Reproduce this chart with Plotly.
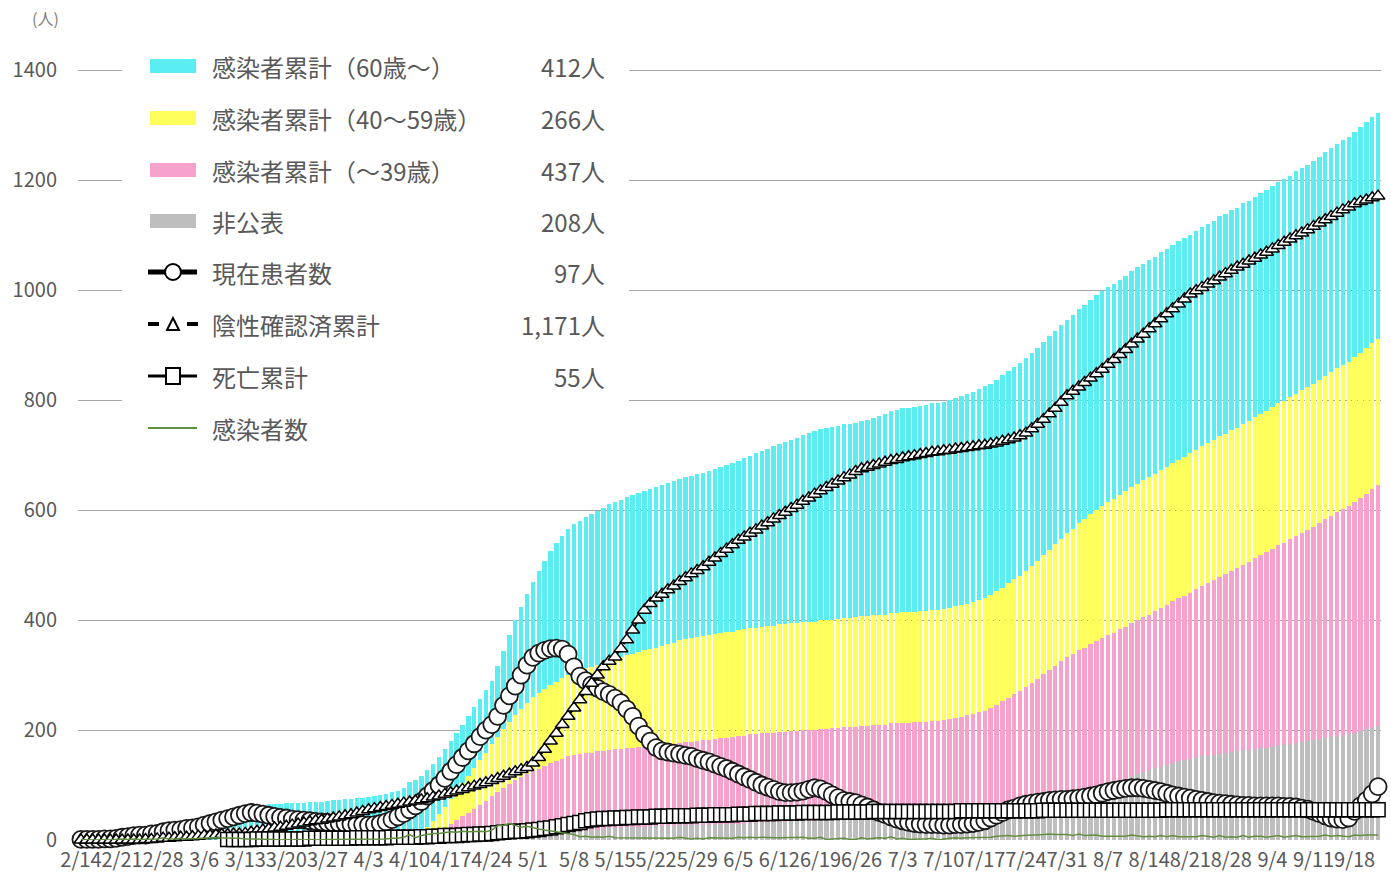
import pandas as pd
import plotly.graph_objects as go

# ---------------- data ----------------
start_date = "2020-02-14"
n_days = 222
tick_labels = ["2/14", "2/21", "2/28", "3/6", "3/13", "3/20", "3/27", "4/3", "4/10", "4/17",
               "4/24", "5/1", "5/8", "5/15", "5/22", "5/29", "6/5", "6/12", "6/19", "6/26",
               "7/3", "7/10", "7/17", "7/24", "7/31", "8/7", "8/14", "8/21", "8/28", "9/4",
               "9/11", "9/18"]

# cumulative cases by age group (own layer values of the stacked bars)
cum_60plus = [
    1, 1, 1, 1, 2, 2, 3,
    5, 6, 8, 9, 10, 12, 14,
    18, 20, 22, 25, 27, 29, 32,
    35, 39, 43, 47, 51, 55, 58,
    60, 62, 63, 64, 65, 66, 66,
    67, 67, 68, 68, 69, 69, 70,
    71, 72, 73, 74, 75, 76, 77,
    78, 80, 82, 84, 86, 89, 93,
    102, 103, 103, 104, 104, 104, 105,
    105, 106, 107, 108, 110, 112, 113,
    115, 128, 142, 158, 172, 185, 198,
    210, 222, 233, 243, 252, 259, 265,
    270, 273, 276, 278, 280, 282, 284,
    285, 286, 287, 288, 289, 290, 291,
    292, 292, 293, 293, 294, 294, 295,
    295, 296, 298, 300, 302, 304, 306,
    308, 311, 314, 317, 320, 323, 326,
    328, 331, 334, 337, 340, 343, 346,
    348, 349, 350, 351, 352, 353, 353,
    354, 356, 358, 361, 364, 367, 369,
    371, 372, 373, 374, 375, 376, 376,
    377, 378, 379, 380, 381, 382, 384,
    385, 385, 385, 386, 386, 386, 387,
    387, 387, 387, 387, 388, 388, 388,
    388, 388, 389, 389, 389, 390, 390,
    390, 391, 391, 392, 393, 394, 394,
    395, 395, 396, 396, 397, 397, 398,
    398, 398, 399, 399, 399, 400, 400,
    400, 400, 401, 401, 401, 402, 402,
    402, 403, 403, 403, 404, 404, 405,
    405, 406, 407, 407, 408, 409, 409,
    410, 410, 411, 411, 412,
]

cum_40_59 = [0] * 49 + [
    0, 0, 0, 0, 1, 1, 2,
    3, 6, 12, 18, 25, 32, 38,
    45, 52, 60, 67, 74, 81, 88,
    95, 101, 107, 113, 119, 124, 130,
    135, 138, 140, 142, 144, 146, 148,
    150, 152, 154, 156, 158, 160, 163,
    165, 167, 169, 171, 173, 175, 177,
    178, 180, 182, 184, 186, 188, 189,
    190, 190, 191, 191, 191, 192, 192,
    192, 193, 193, 194, 194, 195, 195,
    196, 196, 196, 197, 197, 197, 197,
    198, 198, 198, 199, 199, 199, 199,
    200, 200, 200, 200, 200, 201, 201,
    201, 201, 201, 201, 202, 202, 202,
    202, 202, 203, 203, 203, 204, 204,
    205, 205, 206, 207, 208, 209, 210,
    212, 213, 215, 217, 219, 221, 223,
    225, 228, 231, 234, 236, 239, 241,
    243, 244, 245, 246, 247, 248, 249,
    250, 250, 251, 251, 252, 252, 253,
    253, 253, 254, 254, 254, 255, 255,
    255, 255, 256, 256, 256, 257, 257,
    257, 258, 258, 258, 259, 259, 259,
    260, 260, 261, 261, 262, 262, 262,
    263, 264, 265, 265, 266,
]

cum_under39 = [0] * 56 + [
    0, 0, 2, 5, 10, 15, 22,
    30, 36, 43, 50, 57, 64, 71,
    77, 84, 90, 97, 103, 108, 113,
    117, 121, 125, 129, 132, 135, 138,
    140, 140, 141, 141, 142, 142, 143,
    143, 144, 144, 145, 145, 146, 146,
    147, 148, 148, 149, 150, 151, 151,
    152, 153, 154, 155, 156, 157, 158,
    160, 160, 161, 161, 162, 162, 163,
    163, 164, 164, 164, 165, 165, 165,
    166, 166, 166, 166, 167, 167, 167,
    168, 168, 168, 168, 168, 169, 169,
    169, 169, 169, 169, 169, 170, 170,
    170, 171, 172, 173, 175, 176, 178,
    180, 184, 189, 194, 200, 205, 210,
    216, 222, 228, 234, 240, 246, 252,
    258, 260, 263, 265, 268, 270, 272,
    274, 275, 276, 277, 279, 280, 281,
    282, 285, 288, 291, 294, 297, 299,
    302, 306, 310, 314, 318, 322, 326,
    330, 334, 338, 342, 347, 351, 355,
    360, 364, 368, 372, 376, 380, 384,
    388, 392, 397, 402, 406, 411, 415,
    420, 424, 428, 433, 437,
]

cum_undisclosed = [0] * 70 + [
    3, 3, 4, 5, 6, 6, 7,
    8, 9, 10, 11, 12, 13, 14,
    15, 16, 17, 18, 19, 20, 21,
    22, 22, 23, 23, 24, 24, 24,
    25, 25, 26, 26, 27, 27, 27,
    28, 28, 28, 29, 29, 29, 29,
    30, 30, 31, 31, 32, 32, 32,
    33, 33, 34, 34, 35, 35, 35,
    36, 36, 37, 37, 38, 38, 39,
    40, 40, 41, 42, 42, 43, 43,
    44, 44, 45, 46, 46, 47, 47,
    48, 49, 50, 51, 52, 53, 54,
    55, 56, 57, 58, 59, 60, 61,
    62, 64, 65, 67, 69, 71, 73,
    75, 78, 82, 85, 89, 92, 95,
    98, 102, 107, 111, 116, 120, 124,
    128, 131, 134, 137, 140, 143, 145,
    148, 150, 152, 154, 155, 157, 158,
    160, 161, 163, 164, 166, 167, 168,
    170, 172, 173, 175, 177, 179, 180,
    182, 184, 186, 188, 190, 191, 193,
    195, 198, 201, 205, 208,
]

current_patients = [
    1, 1, 1, 1, 2, 2, 3,
    5, 6, 8, 9, 9, 11, 12,
    15, 17, 18, 19, 21, 22, 24,
    27, 30, 33, 36, 39, 42, 45,
    48, 50, 49, 47, 45, 43, 41,
    40, 38, 37, 36, 35, 34, 33,
    32, 31, 30, 30, 29, 28, 28,
    27, 28, 30, 33, 37, 42, 48,
    55, 62, 70, 80, 90, 100, 112,
    125, 137, 150, 162, 175, 188, 200,
    210, 225, 245, 262, 280, 300, 318,
    332, 340, 345, 348, 349, 347, 338,
    315, 298, 290, 282, 276, 270, 265,
    258, 250, 238, 225, 207, 192, 180,
    168, 162, 160, 158, 156, 154, 152,
    148, 145, 142, 138, 134, 130, 125,
    120, 115, 110, 105, 100, 96, 92,
    88, 86, 86, 87, 89, 92, 95,
    93, 88, 82, 77, 72, 70, 68,
    64, 60, 55, 50, 46, 42, 38,
    35, 32, 30, 29, 28, 28, 28,
    27, 27, 28, 28, 29, 30, 32,
    35, 40, 45, 50, 55, 58, 62,
    65, 67, 69, 70, 72, 73, 74,
    74, 75, 76, 78, 80, 82, 85,
    88, 90, 92, 94, 95, 95, 94,
    92, 90, 88, 85, 82, 80, 78,
    76, 74, 72, 70, 68, 67, 66,
    65, 64, 63, 63, 62, 62, 62,
    62, 62, 61, 61, 60, 58, 56,
    52, 48, 44, 40, 38, 37, 40,
    52, 62, 72, 84, 97,
]

cum_negative_confirmed = [
    0, 0, 0, 0, 0, 0, 0,
    0, 0, 0, 0, 1, 1, 2,
    3, 3, 4, 5, 5, 6, 7,
    8, 8, 9, 10, 10, 11, 11,
    12, 14, 16, 18, 20, 22, 23,
    25, 27, 29, 31, 33, 35, 36,
    38, 40, 42, 44, 46, 49, 52,
    55, 57, 59, 61, 63, 65, 67,
    69, 71, 73, 75, 78, 80, 83,
    86, 89, 92, 95, 98, 101, 104,
    108, 112, 116, 120, 124, 128, 132,
    140, 150, 165, 180, 194, 210, 225,
    240, 255, 270, 285, 300, 315, 325,
    333, 348, 364, 382, 400, 418, 430,
    440, 447, 455, 462, 470, 477, 484,
    490, 497, 505, 513, 521, 529, 537,
    545, 551, 558, 564, 571, 577, 584,
    590, 596, 603, 609, 616, 622, 629,
    635, 641, 647, 653, 659, 664, 670,
    675, 678, 681, 684, 687, 690, 692,
    695, 697, 699, 701, 703, 705, 706,
    708, 709, 711, 712, 714, 715, 717,
    718, 720, 722, 725, 728, 731, 735,
    740, 748, 756, 765, 775, 785, 796,
    808, 816, 824, 832, 840, 848, 856,
    865, 874, 883, 892, 902, 911, 920,
    930, 939, 948, 957, 966, 975, 984,
    993, 999, 1005, 1011, 1017, 1024, 1030,
    1036, 1042, 1047, 1053, 1058, 1064, 1069,
    1075, 1081, 1087, 1093, 1099, 1104, 1110,
    1116, 1122, 1128, 1134, 1140, 1146, 1151,
    1157, 1161, 1164, 1168, 1171,
]

cum_deaths = [None] * 25 + [
    1, 1, 1,
    1, 1, 2, 2, 2, 2, 2,
    2, 2, 2, 2, 3, 3, 3,
    3, 3, 3, 3, 3, 4, 4,
    4, 4, 4, 4, 5, 5, 5,
    5, 5, 6, 6, 7, 7, 8,
    8, 8, 9, 10, 10, 11, 11,
    12, 13, 14, 15, 16, 16, 17,
    18, 19, 21, 22, 24, 26, 28,
    30, 32, 35, 37, 38, 39, 39,
    40, 40, 41, 41, 42, 42, 42,
    43, 43, 43, 44, 44, 44, 44,
    45, 45, 45, 46, 46, 46, 46,
    47, 47, 47, 48, 48, 48, 48,
    49, 49, 49, 49, 50, 50, 50,
    50, 50, 50, 51, 51, 51, 51,
    51, 51, 52, 52, 52, 52, 52,
    52, 52, 52, 52, 52, 52, 52,
    52, 52, 52, 53, 53, 53, 53,
    53, 53, 53, 53, 53, 53, 53,
    53, 53, 53, 54, 54, 54, 54,
    54, 54, 54, 54, 54, 54, 54,
    54, 54, 54, 54, 54, 54, 54,
    54, 54, 54, 55, 55, 55, 55,
    55, 55, 55, 55, 55, 55, 55,
    55, 55, 55, 55, 55, 55, 55,
    55, 55, 55, 55, 55, 55, 55,
    55, 55, 55, 55, 55, 55, 55,
    55, 55, 55, 55, 55,
]

for arr in (cum_60plus, cum_40_59, cum_under39, cum_undisclosed, current_patients,
            cum_negative_confirmed, cum_deaths):
    assert len(arr) == n_days, len(arr)

dates = pd.date_range(start_date, periods=n_days, freq="D")
total_cum = [a + b + c + d for a, b, c, d in zip(cum_60plus, cum_40_59, cum_under39, cum_undisclosed)]
daily_new = [total_cum[0]] + [total_cum[i] - total_cum[i - 1] for i in range(1, n_days)]

# ---------------- style ----------------
W, H = 1391, 879
Y_MAX = 1404
ML, MR, MB = 78, 10, 39
PH = round(770 * Y_MAX / 1400)
MT = H - MB - PH
PW = W - ML - MR
FONT = "Noto Sans CJK JP"
TXT = "#595959"
C_CYAN = "#5AEEF2"
C_YEL = "#FFFF5C"
C_PINK = "#F7A2CD"
C_GRAY = "#BEBEBE"
C_GREEN = "#5F8F40"


def px_x(px):
    return (px - ML) / PW


def px_y(py):
    return (H - MB - py) / PH


fig = go.Figure()
for name, vals, col in [("非公表", cum_undisclosed, C_GRAY),
                        ("感染者累計（〜39歳）", cum_under39, C_PINK),
                        ("感染者累計（40〜59歳）", cum_40_59, C_YEL),
                        ("感染者累計（60歳〜）", cum_60plus, C_CYAN)]:
    fig.add_trace(go.Bar(x=dates, y=vals, name=name, marker=dict(color=col, line=dict(width=0))))

fig.add_trace(go.Scatter(
    x=dates, y=current_patients, name="現在患者数", mode="lines+markers", cliponaxis=False,
    line=dict(color="black", width=3),
    marker=dict(symbol="circle", size=17, color="white", line=dict(color="#1a1a1a", width=1.8))))
fig.add_trace(go.Scatter(
    x=dates, y=cum_negative_confirmed, name="陰性確認済累計", mode="lines+markers", cliponaxis=False,
    line=dict(color="black", width=2, dash="dash"),
    marker=dict(symbol="triangle-up", size=12, color="white", line=dict(color="black", width=1.5))))
fig.add_trace(go.Scatter(
    x=dates, y=cum_deaths, name="死亡累計", mode="lines+markers", cliponaxis=False,
    line=dict(color="black", width=2),
    marker=dict(symbol="square", size=14, color="white", line=dict(color="black", width=1.5))))
fig.add_trace(go.Scatter(
    x=dates, y=daily_new, name="感染者数", mode="lines", cliponaxis=False,
    line=dict(color=C_GREEN, width=1.5)))

# ---------------- custom legend ----------------
shapes = [dict(type="rect", xref="paper", yref="paper", x0=px_x(122), x1=px_x(629),
               y0=px_y(452), y1=px_y(40), fillcolor="white", line=dict(width=0), layer="above")]
annotations = []
rows_py = [66, 118, 170, 221, 272, 324, 376, 428]
labels = ["感染者累計（60歳〜）", "感染者累計（40〜59歳）", "感染者累計（〜39歳）", "非公表",
          "現在患者数", "陰性確認済累計", "死亡累計", "感染者数"]
values = [cum_60plus[-1], cum_40_59[-1], cum_under39[-1], cum_undisclosed[-1],
          current_patients[-1], cum_negative_confirmed[-1], cum_deaths[-1], None]
box_cols = [C_CYAN, C_YEL, C_PINK, C_GRAY]
for i, py in enumerate(rows_py):
    yv = px_y(py)
    if i < 4:
        shapes.append(dict(type="rect", xref="paper", yref="paper", x0=px_x(150), x1=px_x(196),
                           y0=px_y(py + 7), y1=px_y(py - 7), fillcolor=box_cols[i],
                           line=dict(width=0), layer="above"))
    elif i == 4:
        shapes.append(dict(type="line", xref="paper", yref="paper", x0=px_x(148), x1=px_x(197),
                           y0=yv, y1=yv, line=dict(color="black", width=5), layer="above"))
        shapes.append(dict(type="circle", xref="paper", yref="paper", xsizemode="pixel",
                           ysizemode="pixel", xanchor=px_x(173), yanchor=yv,
                           x0=-8, x1=8, y0=-8, y1=8, fillcolor="white",
                           line=dict(color="black", width=2), layer="above"))
    elif i == 5:
        for a, b in [(148, 159), (187, 198)]:
            shapes.append(dict(type="line", xref="paper", yref="paper", x0=px_x(a), x1=px_x(b),
                               y0=yv, y1=yv, line=dict(color="black", width=4), layer="above"))
        shapes.append(dict(type="path", xref="paper", yref="paper", xsizemode="pixel",
                           ysizemode="pixel", xanchor=px_x(173), yanchor=yv,
                           path="M -6,-6 L 6,-6 L 0,6 Z", fillcolor="white",
                           line=dict(color="black", width=2), layer="above"))
    elif i == 6:
        shapes.append(dict(type="line", xref="paper", yref="paper", x0=px_x(148), x1=px_x(197),
                           y0=yv, y1=yv, line=dict(color="black", width=3), layer="above"))
        shapes.append(dict(type="rect", xref="paper", yref="paper", xsizemode="pixel",
                           ysizemode="pixel", xanchor=px_x(173), yanchor=yv,
                           x0=-7, x1=7, y0=-8, y1=8, fillcolor="white",
                           line=dict(color="black", width=2), layer="above"))
    else:
        shapes.append(dict(type="line", xref="paper", yref="paper", x0=px_x(148), x1=px_x(197),
                           y0=yv, y1=yv, line=dict(color=C_GREEN, width=2), layer="above"))
    annotations.append(dict(xref="paper", yref="paper", x=px_x(210), y=yv, xanchor="left",
                            yanchor="middle", text=labels[i], showarrow=False,
                            font=dict(family=FONT, size=24, color=TXT)))
    if values[i] is not None:
        annotations.append(dict(xref="paper", yref="paper", x=px_x(607), y=yv, xanchor="right",
                                yanchor="middle", text=f"{values[i]:,}人", showarrow=False,
                                font=dict(family=FONT, size=24, color=TXT)))

annotations.append(dict(xref="paper", yref="paper", x=px_x(30), y=px_y(18), xanchor="left",
                        yanchor="middle", text="(人)", showarrow=False,
                        font=dict(family=FONT, size=16, color="#7F7F7F")))

fig.update_layout(
    width=W, height=H,
    margin=dict(l=ML, r=MR, t=MT, b=MB, pad=0, autoexpand=False),
    paper_bgcolor="white", plot_bgcolor="white",
    barmode="stack", bargap=0.25,
    showlegend=False,
    font=dict(family=FONT, size=20, color=TXT),
    shapes=shapes, annotations=annotations,
    xaxis=dict(
        range=[dates[0] - pd.Timedelta(hours=12), dates[-1] + pd.Timedelta(hours=12)],
        tickmode="array", tickvals=list(dates[::7]), ticktext=tick_labels,
        tickangle=0, showgrid=False, zeroline=False, showline=False, ticks="",
        automargin=False,
        tickfont=dict(family=FONT, size=20, color=TXT), ticklabelstandoff=6),
    yaxis=dict(
        range=[0, Y_MAX], tick0=0, dtick=200, showgrid=True, gridcolor="#A6A6A6", gridwidth=1,
        zeroline=False, showline=False, ticks="", automargin=False,
        tickfont=dict(family=FONT, size=20, color=TXT), ticklabelstandoff=20),
)

fig.write_html("out.html", config={"displayModeBar": False},
               post_script="document.body.style.margin='0';")
